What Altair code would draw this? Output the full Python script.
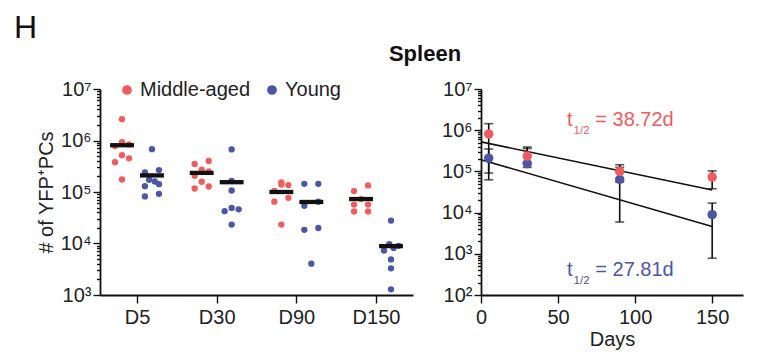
import json
import altair as alt
import pandas as pd

# ---------------- data ----------------
days = ["D5", "D30", "D90", "D150"]
day_num = [5, 30, 90, 150]
groups = ["Middle-aged", "Young"]
colors = ["#F15B5E", "#4B56A6"]

# individual animals (left panel), per group and day
mid_d5 = [2.6e6, 9.3e5, 8.4e5, 7.8e5, 5.2e5, 4.5e5, 3.8e5, 1.75e5]
mid_d30 = [4.0e5, 3.5e5, 2.7e5, 2.5e5, 2.07e5, 1.58e5, 1.28e5, 1.17e5]
mid_d90 = [1.53e5, 1.4e5, 1.36e5, 1.05e5, 7.7e4, 6.5e4, 2.33e4]
mid_d150 = [1.34e5, 1.04e5, 7.3e4, 5.7e4, 5.7e4, 4.2e4, 4.2e4]
young_d5 = [6.8e5, 2.66e5, 2.39e5, 1.73e5, 1.6e5, 1.42e5, 1.3e5, 9.2e4, 8.2e4]
young_d30 = [6.7e5, 1.65e5, 1.07e5, 4.9e4, 4.6e4, 4.25e4, 2.33e4]
young_d90 = [1.44e5, 1.44e5, 6.5e4, 5.4e4, 2.0e4, 1.84e4, 4.06e3]
young_d150 = [2.79e4, 9.7e3, 9.0e3, 8.2e3, 7.3e3, 4.9e3, 3.3e3, 1.29e3]

# horizontal jitter slot of each dot inside its group (-1 left, 0 centre, 1 right)
mid_d5_slot = [0, 0, 1, -1, 0, 1, -1, 0]
mid_d30_slot = [1, -1, 0, 1, -1, 0, 1, -1]
mid_d90_slot = [0, 0, 1, -1, 1, -1, 0]
mid_d150_slot = [1, -1, 0, -1, 1, -1, 1]
young_d5_slot = [0, 1, -1, -0.4, 0.4, 1, -1, 1, -1]
young_d30_slot = [0, 0, 0, 0, 1, -1, 0]
young_d90_slot = [-1, 1, 1, -1, 1, -1, 0]
young_d150_slot = [0, -0.24, 1.09, 0.37, -1, 0, 0, 0]

# group means (bars on the left, dots on the right) and error bars
mean_mid = [8.1e5, 2.35e5, 1.0e5, 7.3e4]
mean_young = [2.1e5, 1.55e5, 6.4e4, 8.9e3]
err_mid_lo = [6.25e4, 1.6e5, 5.5e4, 3.8e4]
err_mid_hi = [1.44e6, 3.9e5, 1.45e5, 1.03e5]
err_young_lo = [9.1e4, 1.25e5, 5.9e3, 7.8e2]
err_young_hi = [3.5e5, 3.6e5, 1.25e5, 1.7e4]

# exponential decay fits (end points)
fit_days = [0, 150]
fit_mid = [5.2e5, 3.55e4]
fit_young = [1.92e5, 4.6e3]
half_life_mid = "= 38.72d"
half_life_young = "= 27.81d"

# ---------------- tables ----------------
rows = []
for g, vals_list, slot_list in (
    (groups[0], [mid_d5, mid_d30, mid_d90, mid_d150],
     [mid_d5_slot, mid_d30_slot, mid_d90_slot, mid_d150_slot]),
    (groups[1], [young_d5, young_d30, young_d90, young_d150],
     [young_d5_slot, young_d30_slot, young_d90_slot, young_d150_slot]),
):
    for d, vals, slots in zip(days, vals_list, slot_list):
        for v, s in zip(vals, slots):
            rows.append({"day": d, "group": g, "value": v, "slot": s})
pts = pd.DataFrame(rows)

means = pd.DataFrame(
    [{"day": d, "group": groups[0], "mean": m} for d, m in zip(days, mean_mid)]
    + [{"day": d, "group": groups[1], "mean": m} for d, m in zip(days, mean_young)]
)

summ = pd.DataFrame(
    [{"t": t, "group": groups[1], "mean": m, "lo": lo, "hi": hi}
     for t, m, lo, hi in zip(day_num, mean_young, err_young_lo, err_young_hi)]
    + [{"t": t, "group": groups[0], "mean": m, "lo": lo, "hi": hi}
       for t, m, lo, hi in zip(day_num, mean_mid, err_mid_lo, err_mid_hi)]
)
fits = pd.DataFrame(
    [{"t": t, "group": groups[0], "fit": f} for t, f in zip(fit_days, fit_mid)]
    + [{"t": t, "group": groups[1], "fit": f} for t, f in zip(fit_days, fit_young)]
)

FONT = "Liberation Sans"
color_scale = alt.Scale(domain=groups, range=colors)

major = "abs(log(datum.value)/LN10 - round(log(datum.value)/LN10)) < 1e-6"
sup = json.dumps(["\u2070", "\u00b9", "\u00b2", "\u00b3", "\u2074",
                  "\u2075", "\u2076", "\u2077", "\u2078", "\u2079"])
log_label = f"({major}) ? '10' + {sup}[round(log(datum.value)/LN10)] : ''"


def log_values(lo_exp, hi_exp):
    return [m * 10 ** e for e in range(lo_exp, hi_exp) for m in range(1, 10)] + [10 ** hi_exp]


def log_axis(vals, title=None):
    return alt.Axis(
        values=vals, labelExpr=log_label, labelOverlap=False, labelFlush=False,
        tickSize={"condition": {"test": major, "value": 7}, "value": 3.5},
        labelPadding=2, grid=False, title=title,
    )


# ---------------- left panel ----------------
LW, H = 313, 206
xdom = [-0.464, 3.464]
idx_expr = f"indexof({json.dumps(days)}, datum.day)"
side_expr = "datum.group == 'Middle-aged' ? -0.188 : 0.188"

x_left_axis = alt.Axis(
    values=[0, 1, 2, 3], labelExpr=f"{json.dumps(days)}[datum.value]",
    title=None, tickSize=8, grid=False, labelFlush=False, labelPadding=4,
)
y_left = alt.Y(
    "value:Q", scale=alt.Scale(type="log", domain=[1e3, 1e7], nice=False),
    axis=log_axis(log_values(3, 7), "# of YFP\u207aPCs"),
)

dots = alt.Chart(pts).transform_calculate(
    px=f"{idx_expr} + ({side_expr}) + datum.slot*0.088"
).mark_circle(size=40, opacity=1).encode(
    x=alt.X("px:Q", scale=alt.Scale(domain=xdom, nice=False, zero=False), axis=x_left_axis),
    y=y_left,
    color=alt.Color(
        "group:N", scale=color_scale,
        legend=alt.Legend(
            orient="none", legendX=17, legendY=-9, direction="horizontal", title=None,
            labelFontSize=20, labelFont=FONT, labelColor="#222", symbolSize=95,
            symbolType="circle", symbolStrokeWidth=0, symbolOpacity=1,
            labelOffset=3, columnPadding=11, padding=0,
        ),
    ),
)

bars = alt.Chart(means).transform_calculate(
    c=f"{idx_expr} + ({side_expr})"
).transform_calculate(
    x1="datum.c - 0.15", x2="datum.c + 0.15"
).mark_rule(color="#111", strokeWidth=4.3, strokeCap="butt").encode(
    x=alt.X("x1:Q", scale=alt.Scale(domain=xdom, nice=False, zero=False), axis=x_left_axis),
    x2="x2:Q",
    y=alt.Y("mean:Q", scale=alt.Scale(type="log", domain=[1e3, 1e7], nice=False)),
)

h_label = alt.Chart(pd.DataFrame({"txt": ["H"]})).mark_text(
    align="left", baseline="top", fontSize=32, font=FONT, color="#111"
).encode(x=alt.value(-86), y=alt.value(-76), text="txt:N")

title_label = alt.Chart(pd.DataFrame({"txt": ["Spleen"]})).mark_text(
    align="center", baseline="alphabetic", fontSize=22, fontWeight="bold", font=FONT, color="#111"
).encode(x=alt.value(325), y=alt.value(-28), text="txt:N")

left = alt.layer(dots, bars, h_label, title_label).properties(width=LW, height=H)

# ---------------- right panel ----------------
RW = 262
x_right = alt.X(
    "t:Q", scale=alt.Scale(domain=[0, 170], nice=False, zero=False),
    axis=alt.Axis(values=[0, 50, 100, 150], title="Days", tickSize=8, grid=False,
                  labelFlush=False, labelPadding=4, titlePadding=2),
)
y_scale_r = alt.Scale(type="log", domain=[1e2, 1e7], nice=False)

fit_lines = alt.Chart(fits).mark_line(color="#111", strokeWidth=1.6).encode(
    x=x_right,
    y=alt.Y("fit:Q", scale=y_scale_r, axis=log_axis(log_values(2, 7))),
    detail="group:N",
)
err = alt.Chart(summ).mark_rule(color="#111", strokeWidth=1.6).encode(
    x="t:Q", y=alt.Y("lo:Q", scale=y_scale_r), y2="hi:Q"
)
cap_lo = alt.Chart(summ).mark_tick(color="#111", orient="horizontal", size=9, thickness=1.6).encode(
    x="t:Q", y=alt.Y("lo:Q", scale=y_scale_r)
)
cap_hi = alt.Chart(summ).mark_tick(color="#111", orient="horizontal", size=9, thickness=1.6).encode(
    x="t:Q", y=alt.Y("hi:Q", scale=y_scale_r)
)
mean_dots = alt.Chart(summ).mark_circle(size=90, opacity=1).encode(
    x="t:Q", y=alt.Y("mean:Q", scale=y_scale_r),
    color=alt.Color("group:N", scale=color_scale, legend=None),
)


def annot(txt, size, xpix, ypix, col):
    return alt.Chart(pd.DataFrame({"txt": [txt]})).mark_text(
        align="left", baseline="alphabetic", fontSize=size, font=FONT, color=col
    ).encode(x=alt.value(xpix), y=alt.value(ypix), text="txt:N")


ann = [
    annot("t", 20, 86, 37.4, colors[0]),
    annot("1/2", 11.5, 92.6, 44.7, colors[0]),
    annot(half_life_mid, 20, 114.3, 37.4, colors[0]),
    annot("t", 20, 86, 187.4, colors[1]),
    annot("1/2", 11.5, 92.6, 195, colors[1]),
    annot(half_life_young, 20, 114.3, 187.4, colors[1]),
]

right = alt.layer(fit_lines, err, cap_lo, cap_hi, mean_dots, *ann).properties(width=RW, height=H)

chart = alt.hconcat(left, right, spacing=68, bounds="flush").resolve_scale(
    color="independent"
).properties(
    padding={"left": 14, "top": 12, "right": 10, "bottom": 4}
).configure_view(stroke=None).configure_axis(
    labelFont=FONT, titleFont=FONT, labelFontSize=20, titleFontSize=20,
    labelColor="#222", titleColor="#222", titleFontWeight="normal",
    domainColor="#111", domainWidth=1.8, tickColor="#111", tickWidth=1.4,
).configure_axisY(titlePadding=4)

chart.save("out.html", embed_options={"renderer": "svg", "actions": False})
